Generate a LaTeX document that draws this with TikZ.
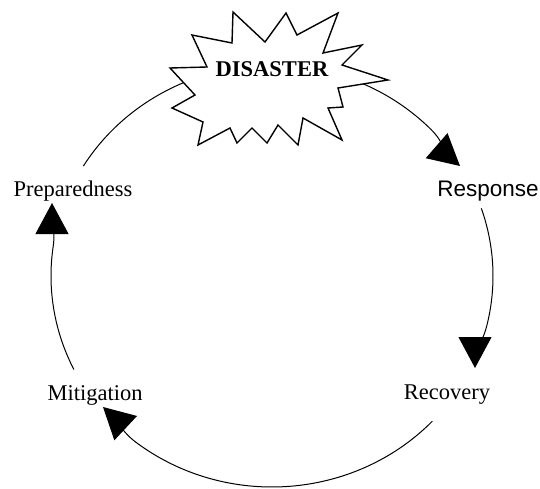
\documentclass[tikz,border=0pt]{standalone}
\usepackage{fontspec}
\setmainfont{Liberation Serif}
\newfontfamily\sanslabel{Liberation Sans}
\usetikzlibrary{calc, arrows.meta}

\begin{document}
\begin{tikzpicture}[x=1pt, y=1pt, font=\fontsize{22.5}{27}\selectfont,
    cyclearrow/.style={line width=1pt, -{Triangle[length=31pt, width=33pt]}},
    burst/.style={draw=black, fill=white, line width=1.4pt, line join=miter}]
    \useasboundingbox (0,0) rectangle (540,488);

    \coordinate (O) at (272,212);

    \coordinate (topStart) at ($ (O) + (148.6:221pt and 211pt) $);
    \coordinate (rightStart) at ($ (O) + (18.7:221pt and 211pt) $);
    \coordinate (bottomStart) at ($ (O) + (-43.5:221pt and 211pt) $);
    \coordinate (leftStart) at ($ (O) + (-153.7:221pt and 211pt) $);

    \coordinate (respTip) at (460,322);
    \coordinate (recovTip) at (475,120);
    \coordinate (mitigTip) at (103,81);
    \coordinate (prepTip) at (52,285);

    \draw[cyclearrow] (topStart) arc[start angle=148.6, end angle=44, x radius=221pt, y radius=211pt]
        to[out=-45, in=139] (respTip);
    \draw[cyclearrow] (rightStart) arc[start angle=18.7, end angle=-14, x radius=221pt, y radius=211pt]
        to[out=-105, in=90] (recovTip);
    \draw[cyclearrow] (bottomStart) arc[start angle=-43.5, end angle=-128, x radius=221pt, y radius=211pt]
        to[out=143, in=-43] (mitigTip);
    \draw[cyclearrow] (leftStart) arc[start angle=-153.7, end angle=-188, x radius=221pt, y radius=211pt]
        to[out=82, in=-90] (prepTip);

    \draw[burst] (233,476) -- (265,446) -- (286,475) -- (297,453) -- (338,475) -- (323,435)
        -- (362,443) -- (342,423) -- (388,408) -- (338,400) -- (343,381) -- (328,380)
        -- (342,348) -- (303,370) -- (298,343) -- (278,363) -- (267,345) -- (252,360)
        -- (237,345) -- (230,360) -- (198,343) -- (203,366) -- (172,380) -- (195,393)
        -- (170,420) -- (207,421) -- (192,453) -- (232,445) -- cycle;

    \node[anchor=base] (disaster) at (272,411) {\bfseries DISASTER};
    \node[anchor=base] (prep) at (73,291) {Preparedness};
    \node[anchor=base] (resp) at (488,292) {\sanslabel Response};
    \node[anchor=base] (recov) at (447,89) {Recovery};
    \node[anchor=base] (mitig) at (95,88) {Mitigation};
\end{tikzpicture}
\end{document}
